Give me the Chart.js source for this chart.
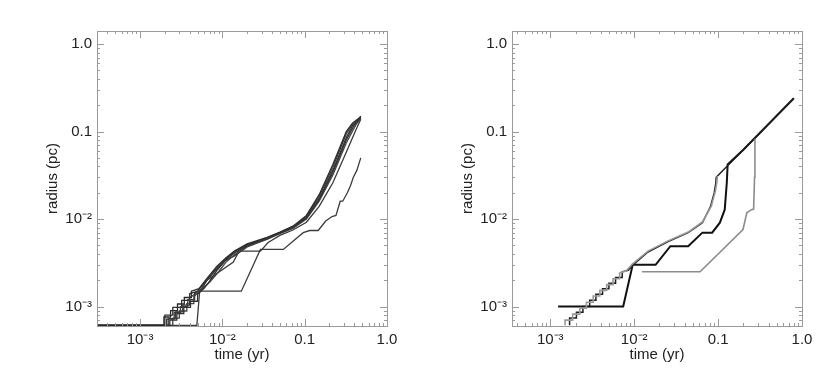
<!DOCTYPE html>
<html>
<head>
<meta charset="utf-8">
<script src="https://cdn.jsdelivr.net/npm/chart.js@4/dist/chart.umd.min.js"></script>
<style>
  html, body { margin: 0; padding: 0; background: #fff; }
  #wrap { width: 830px; height: 388px; display: flex; }
  canvas { display: block; }
</style>
</head>
<body>
<div id="wrap">
  <canvas id="left" width="415" height="388"></canvas>
  <canvas id="right" width="415" height="388"></canvas>
</div>
<script>
// ---- axis ticks ----
const decadeTicks = [1e-3, 1e-2, 0.1, 1.0];
const decadeLabels = ["10\u207B\u00B3", "10\u207B\u00B2", "0.1", "1.0"];

// ---- left panel: time (yr) / radius (pc) ----
const tL1 = [3e-4, 1.95e-3, 1.95e-3, 2.35e-3, 2.35e-3, 2.85e-3, 2.85e-3, 3.45e-3, 3.45e-3, 4.2e-3, 4.2e-3, 5.2e-3, 6.5e-3, 8.6e-3, 1.1e-2, 1.4e-2, 2e-2, 3.5e-2, 5e-2, 7.2e-2, 0.105, 0.15, 0.22, 0.32, 0.38, 0.48];
const rL1 = [6.1e-4, 6.1e-4, 7.6e-4, 7.6e-4, 9.0e-4, 9.0e-4, 1.07e-3, 1.07e-3, 1.27e-3, 1.27e-3, 1.5e-3, 1.6e-3, 2.1e-3, 2.9e-3, 3.6e-3, 4.3e-3, 5.2e-3, 6.2e-3, 7.1e-3, 8.3e-3, 1.1e-2, 1.9e-2, 4.2e-2, 0.1, 0.125, 0.148];

const tL2 = [3e-4, 2.1e-3, 2.1e-3, 2.6e-3, 2.6e-3, 3.1e-3, 3.1e-3, 3.8e-3, 3.8e-3, 4.6e-3, 4.6e-3, 5.6e-3, 6.5e-3, 8.6e-3, 1.1e-2, 1.4e-2, 2e-2, 3.5e-2, 5e-2, 7.2e-2, 0.105, 0.15, 0.22, 0.32, 0.38, 0.48];
const rL2 = [6.1e-4, 6.1e-4, 7.2e-4, 7.2e-4, 8.6e-4, 8.6e-4, 1.0e-3, 1.0e-3, 1.2e-3, 1.2e-3, 1.42e-3, 1.6e-3, 2.0e-3, 2.8e-3, 3.5e-3, 4.2e-3, 5.1e-3, 6.1e-3, 7.0e-3, 8.1e-3, 1.07e-2, 1.8e-2, 3.9e-2, 0.094, 0.12, 0.146];

const tL3 = [3e-4, 2.3e-3, 2.3e-3, 2.8e-3, 2.8e-3, 3.4e-3, 3.4e-3, 4.1e-3, 4.1e-3, 5.0e-3, 5.0e-3, 6.0e-3, 7.0e-3, 8.6e-3, 1.1e-2, 1.4e-2, 2e-2, 3.5e-2, 5e-2, 7.2e-2, 0.105, 0.15, 0.22, 0.32, 0.38, 0.48];
const rL3 = [6.1e-4, 6.1e-4, 7.0e-4, 7.0e-4, 8.3e-4, 8.3e-4, 9.8e-4, 9.8e-4, 1.15e-3, 1.15e-3, 1.38e-3, 1.62e-3, 1.95e-3, 2.6e-3, 3.4e-3, 4.1e-3, 5.0e-3, 6.0e-3, 6.9e-3, 8.0e-3, 1.04e-2, 1.7e-2, 3.6e-2, 0.085, 0.115, 0.144];

const tL4 = [3e-4, 2.5e-3, 2.5e-3, 3.0e-3, 3.0e-3, 3.7e-3, 3.7e-3, 4.5e-3, 4.5e-3, 5.5e-3, 7.0e-3, 9.0e-3, 1.1e-2, 1.4e-2, 2e-2, 3.5e-2, 5e-2, 7.2e-2, 0.105, 0.15, 0.22, 0.32, 0.42, 0.48];
const rL4 = [6.1e-4, 6.1e-4, 7.4e-4, 7.4e-4, 8.9e-4, 8.9e-4, 1.08e-3, 1.08e-3, 1.3e-3, 1.55e-3, 1.9e-3, 2.5e-3, 3.2e-3, 3.9e-3, 4.9e-3, 5.9e-3, 6.8e-3, 7.8e-3, 1.0e-2, 1.6e-2, 3.2e-2, 7.4e-2, 0.12, 0.142];

const tL5 = [3e-4, 2.2e-3, 2.2e-3, 2.7e-3, 2.7e-3, 3.3e-3, 3.3e-3, 4.0e-3, 4.0e-3, 4.9e-3, 5.5e-3, 6.5e-3, 1.35e-2, 1.6e-2, 2.9e-2, 3.6e-2, 5e-2, 7.2e-2, 0.105, 0.15, 0.22, 0.32, 0.42, 0.48];
const rL5 = [6.1e-4, 6.1e-4, 7.3e-4, 7.3e-4, 8.7e-4, 8.7e-4, 1.04e-3, 1.04e-3, 1.25e-3, 1.45e-3, 1.55e-3, 2.0e-3, 3.2e-3, 4.3e-3, 4.3e-3, 5.4e-3, 6.5e-3, 7.5e-3, 9.2e-3, 1.4e-2, 2.6e-2, 5.8e-2, 0.105, 0.138];

const tL6 = [3e-4, 2.0e-3, 2.0e-3, 2.5e-3, 2.5e-3, 3.2e-3, 3.2e-3, 4.0e-3, 4.0e-3, 5.0e-3, 6.0e-3, 8.0e-3, 1.05e-2, 1.4e-2, 2e-2, 3.5e-2, 5e-2, 7.2e-2, 0.105, 0.15, 0.22, 0.32, 0.4, 0.48];
const rL6 = [6.1e-4, 6.1e-4, 8.0e-4, 8.0e-4, 9.8e-4, 9.8e-4, 1.18e-3, 1.18e-3, 1.4e-3, 1.5e-3, 1.85e-3, 2.5e-3, 3.3e-3, 3.8e-3, 4.8e-3, 5.9e-3, 6.9e-3, 7.9e-3, 1.02e-2, 1.65e-2, 3.4e-2, 8.0e-2, 0.118, 0.15];

const tL7 = [3e-4, 4.9e-3, 5.3e-3, 1.7e-2, 2.9e-2, 5.5e-2, 9.6e-2, 0.115, 0.146, 0.18, 0.215, 0.24, 0.27, 0.29, 0.33, 0.36, 0.39, 0.43, 0.48];
const rL7 = [6.1e-4, 6.1e-4, 1.5e-3, 1.5e-3, 4.5e-3, 4.5e-3, 7.0e-3, 7.4e-3, 7.4e-3, 9.5e-3, 1.07e-2, 1.1e-2, 1.6e-2, 1.6e-2, 2.0e-2, 2.4e-2, 3.0e-2, 3.6e-2, 0.05];

// ---- right panel ----
const tRA = [1.7e-3, 1.7e-3, 2.05e-3, 2.05e-3, 2.45e-3, 2.45e-3, 2.95e-3, 2.95e-3, 3.5e-3, 3.5e-3, 4.2e-3, 4.2e-3, 5.0e-3, 5.0e-3, 6.0e-3, 6.0e-3, 7.2e-3, 7.2e-3, 8.5e-3, 9.7e-3, 1.46e-2, 2.5e-2, 4.4e-2, 6.5e-2, 8.1e-2, 9.0e-2, 9.4e-2, 9.5e-2, 0.2, 0.4, 0.8];
const rRA = [6.1e-4, 7.4e-4, 7.4e-4, 8.6e-4, 8.6e-4, 1.0e-3, 1.0e-3, 1.18e-3, 1.18e-3, 1.38e-3, 1.38e-3, 1.6e-3, 1.6e-3, 1.85e-3, 1.85e-3, 2.15e-3, 2.15e-3, 2.5e-3, 2.6e-3, 3.0e-3, 4.2e-3, 5.5e-3, 7.0e-3, 9.1e-3, 1.38e-2, 2.0e-2, 2.6e-2, 3.0e-2, 6.2e-2, 0.122, 0.24];

const tRA2 = [1.5e-3, 1.5e-3, 1.85e-3, 1.85e-3, 2.25e-3, 2.25e-3, 2.7e-3, 2.7e-3, 3.25e-3, 3.25e-3, 3.9e-3, 3.9e-3, 4.7e-3, 4.7e-3, 5.6e-3, 5.6e-3, 6.7e-3, 6.7e-3, 8.0e-3, 9.5e-3, 1.46e-2, 2.5e-2, 4.4e-2, 6.5e-2, 8.3e-2, 9.3e-2, 9.7e-2, 9.8e-2];
const rRA2 = [6.1e-4, 7.0e-4, 7.0e-4, 8.2e-4, 8.2e-4, 9.6e-4, 9.6e-4, 1.12e-3, 1.12e-3, 1.32e-3, 1.32e-3, 1.53e-3, 1.53e-3, 1.78e-3, 1.78e-3, 2.08e-3, 2.08e-3, 2.42e-3, 2.55e-3, 3.05e-3, 4.3e-3, 5.6e-3, 7.1e-3, 9.3e-3, 1.4e-2, 2.1e-2, 2.7e-2, 3.1e-2];

const tRB = [1.24e-3, 7.4e-3, 9.6e-3, 1.8e-2, 2.7e-2, 4.4e-2, 6.5e-2, 8.5e-2, 0.105, 0.12, 0.127, 0.13, 0.2, 0.4, 0.8];
const rRB = [1.0e-3, 1.0e-3, 3.0e-3, 3.0e-3, 4.9e-3, 4.9e-3, 7.0e-3, 7.0e-3, 9.1e-3, 1.28e-2, 2.6e-2, 4.2e-2, 6.2e-2, 0.122, 0.24];

const tRC = [1.24e-2, 6.1e-2, 0.198, 0.22, 0.25, 0.265, 0.272, 0.275];
const rRC = [2.5e-3, 2.5e-3, 7.6e-3, 1.18e-2, 1.28e-2, 1.3e-2, 3.0e-2, 8.3e-2];

const FONT = "'Liberation Sans', Arial, Helvetica, sans-serif";

function pts(t, r) {
  return t.map((v, i) => ({ x: v, y: r[i] }));
}

function curve(t, r, color, width) {
  return {
    data: pts(t, r),
    borderColor: color,
    borderWidth: width,
    pointRadius: 0,
    tension: 0,
    fill: false
  };
}

// IDL style frame: box plus inward ticks on all four sides
const idlFrame = {
  id: "idlFrame",
  afterDatasetsDraw(chart) {
    const { ctx, chartArea: a, scales } = chart;
    ctx.save();
    ctx.strokeStyle = "#9a9a9a";
    ctx.lineWidth = 1;
    ctx.strokeRect(a.left + 0.5, a.top + 0.5, a.right - a.left, a.bottom - a.top);

    const logTicks = (scale) => {
      const out = [];
      for (let k = Math.floor(Math.log10(scale.min)); k <= Math.ceil(Math.log10(scale.max)); k++) {
        for (let m = 1; m <= 9; m++) {
          const v = m * Math.pow(10, k);
          if (v >= scale.min && v <= scale.max * 1.0001) out.push({ v, major: m === 1 });
        }
      }
      return out;
    };

    ctx.beginPath();
    logTicks(scales.x).forEach(tk => {
      const px = Math.round(scales.x.getPixelForValue(tk.v)) + 0.5;
      const len = tk.major ? 7 : 3;
      ctx.moveTo(px, a.bottom); ctx.lineTo(px, a.bottom - len);
      ctx.moveTo(px, a.top); ctx.lineTo(px, a.top + len);
    });
    logTicks(scales.y).forEach(tk => {
      const py = Math.round(scales.y.getPixelForValue(tk.v)) + 0.5;
      const len = tk.major ? 7 : 3;
      ctx.moveTo(a.left, py); ctx.lineTo(a.left + len, py);
      ctx.moveTo(a.right, py); ctx.lineTo(a.right - len, py);
    });
    ctx.stroke();
    ctx.restore();
  }
};

function makeChart(id, datasets, xMin) {
  return new Chart(document.getElementById(id), {
    type: "line",
    data: { datasets },
    options: {
      responsive: false,
      animation: false,
      layout: { padding: { top: 31, right: 28, left: 0, bottom: 0 } },
      plugins: { legend: { display: false }, tooltip: { enabled: false } },
      scales: {
        x: {
          type: "logarithmic",
          min: xMin,
          max: 1.0,
          grid: { display: false, drawTicks: false },
          border: { display: false },
          afterBuildTicks: s => { s.ticks = decadeTicks.map(v => ({ value: v })); },
          afterFit: s => { s.height = 62; },
          ticks: {
            color: "#222",
            font: { family: FONT, size: 15 },
            padding: 5,
            maxRotation: 0,
            callback: v => decadeLabels[decadeTicks.indexOf(v)] || ""
          },
          title: {
            display: true,
            text: "time (yr)",
            color: "#222",
            font: { family: FONT, size: 15 },
            padding: { top: 0, bottom: 24 }
          }
        },
        y: {
          type: "logarithmic",
          min: 6.1e-4,
          max: 1.41,
          grid: { display: false, drawTicks: false },
          border: { display: false },
          afterBuildTicks: s => { s.ticks = decadeTicks.map(v => ({ value: v })); },
          afterFit: s => { s.width = 97; },
          ticks: {
            color: "#222",
            font: { family: FONT, size: 15 },
            padding: 5,
            callback: v => decadeLabels[decadeTicks.indexOf(v)] || ""
          },
          title: {
            display: true,
            text: "radius (pc)",
            color: "#222",
            font: { family: FONT, size: 15 },
            padding: { top: 44, bottom: 0 }
          }
        }
      }
    },
    plugins: [idlFrame]
  });
}

makeChart("left", [
  curve(tL1, rL1, "#2a2a2a", 1.3),
  curve(tL2, rL2, "#3a3a3a", 1.3),
  curve(tL3, rL3, "#2f2f2f", 1.3),
  curve(tL4, rL4, "#444444", 1.3),
  curve(tL5, rL5, "#3a3a3a", 1.3),
  curve(tL6, rL6, "#333333", 1.3),
  curve(tL7, rL7, "#3c3c3c", 1.3)
], 3e-4);

makeChart("right", [
  curve(tRC, rRC, "#8c8c8c", 1.6),
  curve(tRA2, rRA2, "#999999", 1.6),
  curve(tRA, rRA, "#1e1e1e", 1.5),
  curve(tRB, rRB, "#111111", 2.0)
], 3.5e-4);
</script>
</body>
</html>
